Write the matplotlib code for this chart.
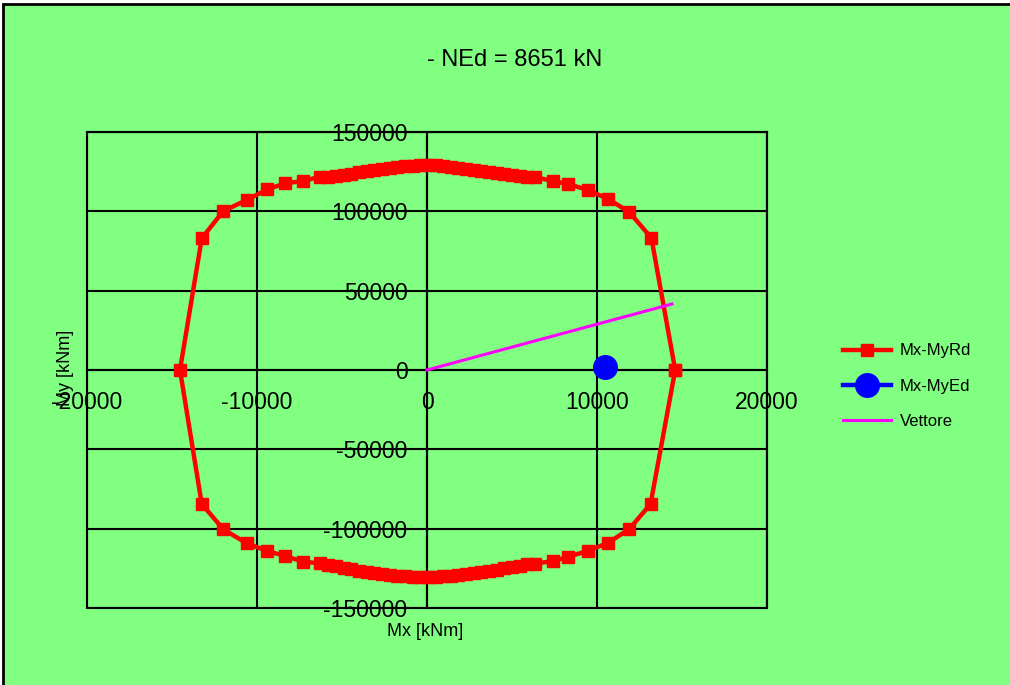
# Dominio di resistenza Mx-My - ricostruzione del grafico
import matplotlib
matplotlib.use("Agg")
import matplotlib.pyplot as plt
from matplotlib.patches import Rectangle

plt.rcParams['font.family'] = ['Liberation Sans', 'DejaVu Sans']
plt.rcParams['axes.unicode_minus'] = False

VERDE = '#80ff80'

titolo = '- NEd = 8651 kN'

# dominio resistente Mx-MyRd [kNm]
mx_rd = [14600, 13200, 11900, 10650, 9450, 8300, 7400, 6350,
         5900, 5450, 5000, 4550, 4100, 3650, 3200, 2750, 2300, 1850, 1400, 950, 500, 50,
         -400, -850, -1300, -1750, -2200, -2650, -3100, -3550, -4000, -4450, -4900, -5350, -5800,
         -6290, -7310, -8350, -9390, -10610, -11980, -13250,
         -14530,
         -13250, -11980, -10610, -9390, -8350, -7310, -6290,
         -5800, -5350, -4900, -4450, -4000, -3550, -3100, -2650, -2200, -1750, -1300, -850, -400,
         50, 500, 950, 1400, 1850, 2300, 2750, 3200, 3650, 4100, 4550, 5000, 5450, 5900,
         6350, 7400, 8300, 9450, 10650, 11900, 13150, 14600]
my_rd = [0, 83200, 99500, 107800, 113500, 117200, 119100, 121600,
         121900, 122300, 123000, 123600, 124300, 125000, 125700, 126300, 126900, 127500, 128100,
         128600, 129000, 129200,
         129100, 128800, 128400, 127900, 127300, 126700, 126000, 125300, 124500, 123700, 122900,
         122300, 121900,
         121800, 119100, 117600, 113900, 107100, 100200, 83000,
         0,
         -84450, -100400, -109200, -114100, -117200, -120800, -121900,
         -122600, -123600, -124600, -125600, -126500, -127300, -128000, -128600, -129200, -129700,
         -130100, -130400, -130500,
         -130500, -130400, -130100, -129700, -129200, -128700, -128100, -127500, -126800, -126000,
         -125100, -124200, -123300, -122500,
         -122000, -120500, -117800, -114000, -109000, -100200, -84500, 0]

# sollecitazione di progetto
mx_ed = [10470]
my_ed = [1900]

# vettore dall'origine
mx_vett = [0, 14410]
my_vett = [0, 41600]

x_ticks = [-20000, -10000, 0, 10000, 20000]
y_ticks = [-150000, -100000, -50000, 0, 50000, 100000, 150000]

fig = plt.figure(figsize=(10.1, 6.85), dpi=100, facecolor='white')
fig.add_artist(Rectangle((3 / 1010, -0.1), 1.2, 1.1 - 4 / 685, transform=fig.transFigure,
                         facecolor=VERDE, edgecolor='black', linewidth=2, zorder=-10))

ax = fig.add_axes([87 / 1010, 1 - 608 / 685, 680 / 1010, 476 / 685])
ax.set_facecolor(VERDE)
ax.set_xlim(-20000, 20000)
ax.set_ylim(-150000, 150000)
ax.set_xticks(x_ticks)
ax.set_yticks(y_ticks)
ax.grid(True, color='black', linewidth=1.5)
ax.set_axisbelow(True)

# assi che si incrociano nell'origine
ax.spines['left'].set_position(('data', 0))
ax.spines['bottom'].set_position(('data', 0))
for s in ['left', 'bottom', 'top', 'right']:
    ax.spines[s].set_color('black')
    ax.spines[s].set_linewidth(1.5)
ax.add_patch(Rectangle((0, 0), 1, 1, transform=ax.transAxes, fill=False,
                       edgecolor='black', linewidth=1.5, clip_on=False))
ax.tick_params(axis='x', length=0, pad=15, labelsize=16.5)
ax.tick_params(axis='y', length=0, pad=14, labelsize=16.5)

ax.plot(mx_rd, my_rd, color='red', linewidth=3.2, marker='s', markersize=8.5,
        label='Mx-MyRd', zorder=3)
ax.plot(mx_ed, my_ed, color='blue', linewidth=3.2, marker='o', markersize=17,
        label='Mx-MyEd', zorder=4)
ax.plot(mx_vett, my_vett, color='magenta', linewidth=2.2, label='Vettore', zorder=3)

fig.text(515 / 1010, 1 - 60 / 685, titolo, ha='center', va='center', fontsize=17)
fig.text(425 / 1010, 1 - 632 / 685, 'Mx [kNm]', ha='center', va='center', fontsize=13)
fig.text(65 / 1010, 1 - 368 / 685, 'My [kNm]', ha='center', va='center', fontsize=13, rotation=90)

fig.legend(loc='center left', bbox_to_anchor=(828 / 1010, 1 - 386 / 685), frameon=False,
           fontsize=12, handlelength=2.85, handletextpad=0.55, labelspacing=1.2)

fig.savefig('out.png', dpi=100, facecolor=fig.get_facecolor())
